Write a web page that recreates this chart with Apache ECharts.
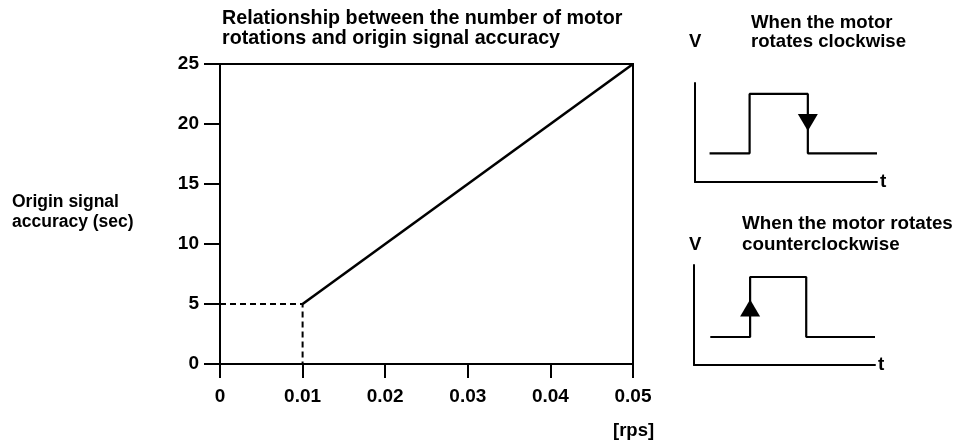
<!DOCTYPE html>
<html><head><meta charset="utf-8">
<script src="https://cdn.jsdelivr.net/npm/echarts@6/dist/echarts.min.js"></script>
<style>html,body{margin:0;padding:0;background:#fff}#c{width:967px;height:440px}</style>
</head><body><div id="c"></div>
<script>
// Main chart data
const xTicks = [0, 0.01, 0.02, 0.03, 0.04, 0.05];
const yTicks = [0, 5, 10, 15, 20, 25];
const rps = [0.01, 0.05];
const accuracy = [5, 25];
const guideX = [0, 0.01, 0.01];
const guideY = [5, 5, 0];
// Inset waveforms (arbitrary units 0-100)
const cwT = [8, 30, 30, 62, 62, 100];
const cwV = [29, 29, 89, 89, 29, 29];
const cwArrow = [62, 60];
const ccwT = [9, 31, 31, 62, 62, 100];
const ccwV = [28, 28, 88, 88, 28, 28];
const ccwArrow = [31, 57];

const F = 'Liberation Sans, Arial, sans-serif';
const txt = (s) => ({fontFamily: F, fontSize: s, color: '#000', fontWeight: 'bold'});
const zip = (a, b) => a.map((v, i) => [v, b[i]]);

const chart = echarts.init(document.getElementById('c'), null, {renderer: 'canvas'});
const insetX = (gi) => ({
  gridIndex: gi, type: 'value', min: 0, max: 100,
  axisLine: {show: true, onZero: false, lineStyle: {color: '#000', width: 2}},
  axisTick: {show: false}, axisLabel: {show: false}, splitLine: {show: false},
  name: 't', nameLocation: 'end', nameGap: 3, nameTextStyle: Object.assign(txt(19), {verticalAlign: 'middle'})
});
const insetY = (gi) => ({
  gridIndex: gi, type: 'value', min: 0, max: 100,
  axisLine: {show: true, onZero: false, lineStyle: {color: '#000', width: 2}},
  axisTick: {show: false}, axisLabel: {show: false}, splitLine: {show: false}
});

chart.setOption({
  animation: false,
  backgroundColor: '#fff',
  title: [
    {text: 'Relationship between the number of motor\nrotations and origin signal accuracy', left: 222, top: 9,
     padding: 0, textStyle: Object.assign(txt(19.7), {lineHeight: 20})},
    {text: 'Origin signal\naccuracy (sec)', left: 12, top: 192, padding: 0, textStyle: Object.assign(txt(17.5), {lineHeight: 20})},
    {text: '[rps]', left: 613, top: 421, padding: 0, textStyle: txt(18.5)},
    {text: 'When the motor\nrotates clockwise', left: 751, top: 13, padding: 0, textStyle: Object.assign(txt(18.6), {lineHeight: 19})},
    {text: 'V', left: 689, top: 32, padding: 0, textStyle: txt(18.5)},
    {text: 'When the motor rotates\ncounterclockwise', left: 742, top: 213, padding: 0, textStyle: Object.assign(txt(18.8), {lineHeight: 21})},
    {text: 'V', left: 689, top: 235, padding: 0, textStyle: txt(18.5)}
  ],
  grid: [
    {left: 220, top: 64, width: 413, height: 300, show: true, borderColor: '#000', borderWidth: 2, backgroundColor: 'transparent'},
    {left: 695, top: 83, width: 182, height: 99},
    {left: 694, top: 265, width: 181, height: 100}
  ],
  xAxis: [
    {gridIndex: 0, type: 'value', min: 0, max: 0.05, interval: 0.01,
     axisLine: {show: true, lineStyle: {color: '#000', width: 2}},
     axisTick: {show: true, inside: false, length: 14, lineStyle: {color: '#000', width: 2}},
     axisLabel: Object.assign(txt(19), {margin: 23, formatter: (v) => (v === 0 ? '0' : v.toFixed(2))}),
     splitLine: {show: false}},
    insetX(1), insetX(2)
  ],
  yAxis: [
    {gridIndex: 0, type: 'value', min: 0, max: 25, interval: 5,
     axisLine: {show: true, lineStyle: {color: '#000', width: 2}},
     axisTick: {show: true, inside: false, length: 16, lineStyle: {color: '#000', width: 2}},
     axisLabel: Object.assign(txt(19), {margin: 21}),
     splitLine: {show: false}},
    insetY(1), insetY(2)
  ],
  series: [
    {type: 'line', xAxisIndex: 0, yAxisIndex: 0, data: zip(guideX, guideY), symbol: 'none',
     lineStyle: {color: '#000', width: 2, type: [6, 4]}},
    {type: 'line', xAxisIndex: 0, yAxisIndex: 0, data: zip(rps, accuracy), symbol: 'none',
     lineStyle: {color: '#000', width: 2.6}},
    {type: 'line', xAxisIndex: 1, yAxisIndex: 1, data: zip(cwT, cwV), symbol: 'none',
     lineStyle: {color: '#000', width: 2.2}},
    {type: 'scatter', xAxisIndex: 1, yAxisIndex: 1, data: [cwArrow], symbol: 'triangle', symbolRotate: 180,
     symbolSize: [20, 17], itemStyle: {color: '#000', opacity: 1}},
    {type: 'line', xAxisIndex: 2, yAxisIndex: 2, data: zip(ccwT, ccwV), symbol: 'none',
     lineStyle: {color: '#000', width: 2.2}},
    {type: 'scatter', xAxisIndex: 2, yAxisIndex: 2, data: [ccwArrow], symbol: 'triangle',
     symbolSize: [20, 17], itemStyle: {color: '#000', opacity: 1}}
  ]
});
</script></body></html>
